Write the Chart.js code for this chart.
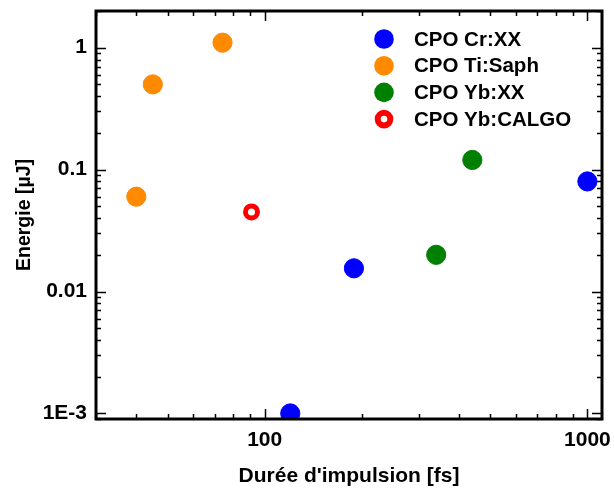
<!DOCTYPE html>
<html>
<head>
<meta charset="utf-8">
<script src="https://cdn.jsdelivr.net/npm/chart.js@4"></script>
<style>
  html, body { margin: 0; padding: 0; background: #fff; }
  #wrap { width: 614px; height: 490px; position: relative; }
</style>
</head>
<body>
<div id="wrap"><canvas id="chart"></canvas></div>
<script>
// data (pulse duration in fs, energy in µJ)
const crDur = [120, 189, 1000];
const crEnergy = [0.001, 0.0155, 0.08];
const tiDur = [40, 45, 74];
const tiEnergy = [0.06, 0.5, 1.1];
const ybDur = [340, 440];
const ybEnergy = [0.02, 0.12];
const calgoDur = [91];
const calgoEnergy = [0.045];

const seriesNames = ['CPO Cr:XX', 'CPO Ti:Saph', 'CPO Yb:XX', 'CPO Yb:CALGO'];

// axes
const xMin = 30, xMax = 1110;
const yMin = 0.0009, yMax = 2;
const xMajor = [100, 1000];
const xMajorLabels = ['100', '1000'];
const yMajor = [0.001, 0.01, 0.1, 1];
const yMajorLabels = ['1E-3', '0.01', '0.1', '1'];

const FONT = "'Liberation Sans', Arial, sans-serif";

const colors = {
    cr: '#0000ff',
    ti: '#ff8a00',
    yb: '#008000',
    calgo: '#ff0000'
};

function pts(xs, ys) {
    return xs.map((x, i) => ({ x: x, y: ys[i] }));
}

// all 1..9 x 10^n ticks inside the range
function logTicks(min, max, majors) {
    const out = [];
    for (let e = Math.floor(Math.log10(min)); e <= Math.ceil(Math.log10(max)); e++) {
        for (let m = 1; m <= 9; m++) {
            const v = +(m * Math.pow(10, e)).toPrecision(6);
            if (v >= min * 0.999 && v <= max * 1.001) {
                out.push({ value: v, major: majors.some(t => Math.abs(t - v) < v * 1e-6) });
            }
        }
    }
    return out;
}

function labelFor(value, majors, labels) {
    const i = majors.findIndex(t => Math.abs(t - value) < value * 1e-6);
    return i >= 0 ? labels[i] : '';
}

// frame with inward ticks + legend inside the plot
const framePlugin = {
    id: 'frame',
    afterDatasetsDraw(chart) {
        const { ctx, chartArea: a, scales } = chart;
        ctx.save();
        ctx.strokeStyle = '#000';
        ctx.lineWidth = 1.5;
        ctx.beginPath();
        scales.x.ticks.forEach(t => {
            const px = Math.round(scales.x.getPixelForValue(t.value)) + 0.5;
            const len = t.major ? 10 : 5;
            ctx.moveTo(px, a.bottom); ctx.lineTo(px, a.bottom - len);
            ctx.moveTo(px, a.top); ctx.lineTo(px, a.top + len);
        });
        scales.y.ticks.forEach(t => {
            const py = Math.round(scales.y.getPixelForValue(t.value)) + 0.5;
            const len = t.major ? 10 : 5;
            ctx.moveTo(a.left, py); ctx.lineTo(a.left + len, py);
            ctx.moveTo(a.right, py); ctx.lineTo(a.right - len, py);
        });
        ctx.stroke();
        ctx.lineWidth = 3;
        ctx.strokeRect(a.left, a.top, a.right - a.left, a.bottom - a.top);

        // legend
        const lx = 384, ly = 39, step = 26.7;
        ctx.font = 'bold 20.5px ' + FONT;
        ctx.textBaseline = 'middle';
        ctx.textAlign = 'left';
        chart.data.datasets.forEach((ds, i) => {
            const y = ly + i * step;
            ctx.beginPath();
            if (ds.pointBackgroundColor === '#ffffff') {
                ctx.arc(lx, y, 6.3, 0, Math.PI * 2);
                ctx.lineWidth = 6;
                ctx.strokeStyle = ds.pointBorderColor;
                ctx.stroke();
            } else {
                ctx.arc(lx, y, 9.8, 0, Math.PI * 2);
                ctx.fillStyle = ds.pointBackgroundColor;
                ctx.fill();
            }
            ctx.fillStyle = '#000';
            ctx.fillText(ds.label, 414, y + 1);
        });
        ctx.restore();
    }
};

function filled(label, data, color) {
    return {
        label: label,
        data: data,
        pointBackgroundColor: color,
        pointBorderColor: color,
        pointBorderWidth: 1,
        pointRadius: 9.6,
        clip: 0
    };
}

new Chart(document.getElementById('chart'), {
    type: 'scatter',
    data: {
        datasets: [
            filled(seriesNames[0], pts(crDur, crEnergy), colors.cr),
            filled(seriesNames[1], pts(tiDur, tiEnergy), colors.ti),
            filled(seriesNames[2], pts(ybDur, ybEnergy), colors.yb),
            {
                label: seriesNames[3],
                data: pts(calgoDur, calgoEnergy),
                pointBackgroundColor: '#ffffff',
                pointBorderColor: colors.calgo,
                pointBorderWidth: 5,
                pointRadius: 6,
                clip: 0
            }
        ]
    },
    options: {
        responsive: true,
        maintainAspectRatio: false,
        animation: false,
        layout: { padding: { left: 0, top: 11, right: 12, bottom: 0 } },
        plugins: {
            legend: { display: false },
            tooltip: { enabled: false }
        },
        scales: {
            x: {
                type: 'logarithmic',
                min: xMin,
                max: xMax,
                grid: { display: false, drawTicks: false },
                border: { display: false },
                afterBuildTicks: s => { s.ticks = logTicks(xMin, xMax, xMajor); },
                afterFit: s => { s.height = 71; s.paddingLeft = 0; s.paddingRight = 0; },
                ticks: {
                    autoSkip: false,
                    maxRotation: 0,
                    padding: 9,
                    color: '#000',
                    font: { family: FONT, size: 21, weight: 'bold' },
                    callback: v => labelFor(v, xMajor, xMajorLabels)
                },
                title: {
                    display: true,
                    text: "Durée d'impulsion [fs]",
                    color: '#000',
                    font: { family: FONT, size: 21, weight: 'bold' },
                    padding: { top: 0, bottom: 1 }
                }
            },
            y: {
                type: 'logarithmic',
                min: yMin,
                max: yMax,
                grid: { display: false, drawTicks: false },
                border: { display: false },
                afterBuildTicks: s => { s.ticks = logTicks(yMin, yMax, yMajor); },
                afterFit: s => { s.width = 96; s.paddingTop = 0; s.paddingBottom = 0; },
                ticks: {
                    autoSkip: false,
                    padding: 9,
                    color: '#000',
                    font: { family: FONT, size: 21, weight: 'bold' },
                    callback: v => labelFor(v, yMajor, yMajorLabels)
                },
                title: {
                    display: true,
                    text: 'Energie [µJ]',
                    color: '#000',
                    font: { family: FONT, size: 19.5, weight: 'bold' },
                    padding: { top: 13, bottom: 0 }
                }
            }
        }
    },
    plugins: [framePlugin]
});
</script>
</body>
</html>
